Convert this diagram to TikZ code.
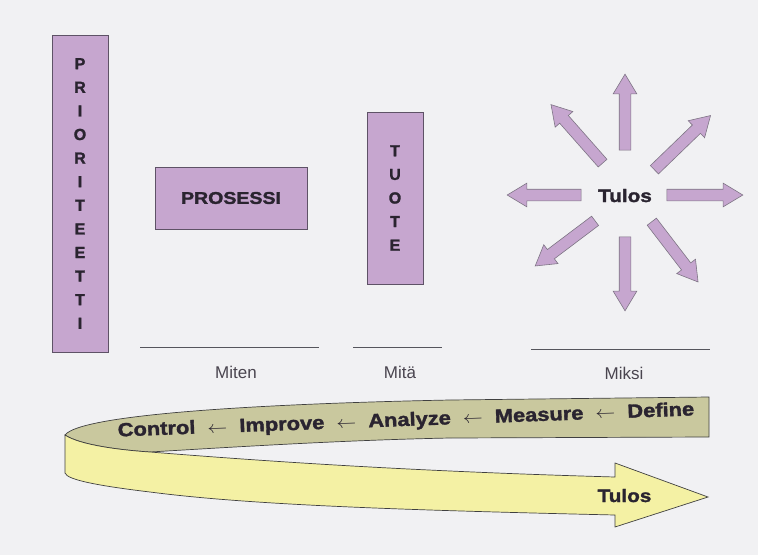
\documentclass[tikz,border=0pt]{standalone}
\usepackage{fontspec}
\usepackage{graphicx}
\setmainfont{Liberation Sans}
\newfontfamily\heavyfont[FakeBold=1.6]{Liberation Sans Bold}
\usetikzlibrary{shapes.arrows}
\definecolor{lav}{HTML}{C6A6CF}
\definecolor{lavline}{HTML}{5E5266}
\definecolor{olivefill}{HTML}{C9C89E}
\definecolor{yel}{HTML}{F4F1A4}
\definecolor{ink}{HTML}{2A2430}
\definecolor{bgc}{HTML}{F1F1F3}
\definecolor{rulec}{HTML}{55555C}
\newcommand{\widetext}[1]{\scalebox{1.15}[1]{#1}}
\begin{document}
\begin{tikzpicture}[x=1pt,y=-1pt,
  lbox/.style={draw=lavline, line width=0.8pt, fill=lav, inner sep=0pt, text=ink,
    font=\fontsize{16}{23.6}\selectfont\heavyfont, align=center},
  starrow/.style={single arrow, draw=lavline!80, line width=0.6pt, fill=lav,
    inner xsep=0pt, inner ysep=5.5pt, single arrow head extend=6pt,
    single arrow tip angle=62},
  boldlbl/.style={text=ink, font=\fontsize{18}{20}\selectfont\heavyfont, inner sep=0pt},
  lbl/.style={text=ink!85, font=\fontsize{17}{19}\selectfont, inner sep=0pt, anchor=base},
  rulestyle/.style={draw=rulec, line width=0.8pt},
  ribbon/.style={draw=black!75, line width=0.7pt}]
\fill[bgc] (0,0) rectangle (758,555);
\useasboundingbox (0,0) rectangle (758,555);

% vertical and horizontal boxes
\node[lbox, minimum width=56pt, minimum height=317pt] (prio) at (80,193.5)
  {P\\R\\I\\O\\R\\I\\T\\E\\E\\T\\T\\I};
\node[lbox, minimum width=152pt, minimum height=62pt,
  font=\fontsize{17}{19}\selectfont\heavyfont] (proc) at (231,198) {\widetext{PROSESSI}};
\node[lbox, minimum width=56pt, minimum height=172pt] (tuote) at (395,198)
  {T\\U\\O\\T\\E};

% star of arrows
\node[boldlbl, anchor=base] (tulos) at (625,202) {\widetext{Tulos}};
\node[starrow, minimum height=76pt, rotate=90] (aN) at (625,117) {};
\node[starrow, minimum height=76pt, rotate=0] (aE) at (700,195) {};
\node[starrow, minimum height=74pt, rotate=180] (aW) at (549,195) {};
\node[starrow, minimum height=74pt, rotate=-90] (aS) at (625,269) {};
\node[starrow, minimum height=78pt, rotate=131.4] (aNW) at (580,137.5) {};
\node[starrow, minimum height=78pt, rotate=44] (aNE) at (679,146) {};
\node[starrow, minimum height=75pt, rotate=-143] (aSW) at (569,240.5) {};
\node[starrow, minimum height=76pt, rotate=-52.5] (aSE) at (672,248) {};

% rules and labels
\coordinate (r1a) at (140,347); \coordinate (r1b) at (319,347);
\coordinate (r2a) at (353,347); \coordinate (r2b) at (442,347);
\coordinate (r3a) at (531,349); \coordinate (r3b) at (710,349);
\draw[rulestyle] (r1a) -- (r1b);
\draw[rulestyle] (r2a) -- (r2b);
\draw[rulestyle] (r3a) -- (r3b);
\node[lbl] (miten) at (236,378) {Miten};
\node[lbl] (mita) at (400,378) {Mitä};
\node[lbl] (miksi) at (624,379) {Miksi};

% ribbon: back (olive) part
\path[ribbon, fill=olivefill]
  (709,397) -- (450,400) .. controls (250,404) and (80,415) .. (65,435)
  .. controls (80,445) and (120,450) .. (150,452)
  .. controls (250,446) and (350,440) .. (450,438) -- (709,437) -- cycle;
% ribbon: front (yellow) arrow
\path[ribbon, fill=yel]
  (65,435) .. controls (80,445) and (120,450) .. (150,452)
  .. controls (250,460) and (400,471) .. (615,477)
  -- (615,463) -- (708,497) -- (615,527) -- (615,515)
  .. controls (400,510) and (250,505) .. (150,492)
  .. controls (100,486) and (67,480) .. (65,473) -- cycle;

\node[boldlbl, font=\fontsize{19}{21}\selectfont\heavyfont, rotate=2.1] (steps) at (406,421)
  {\widetext{Control\hspace{10.5pt}$\leftarrow$\hspace{10.5pt}Improve\hspace{10.5pt}$\leftarrow$\hspace{10.5pt}Analyze\hspace{10.5pt}$\leftarrow$\hspace{10.5pt}Measure\hspace{10.5pt}$\leftarrow$\hspace{10.5pt}Define}};
\node[boldlbl, anchor=base] (tulos2) at (624.5,502) {\widetext{Tulos}};
\end{tikzpicture}
\end{document}
